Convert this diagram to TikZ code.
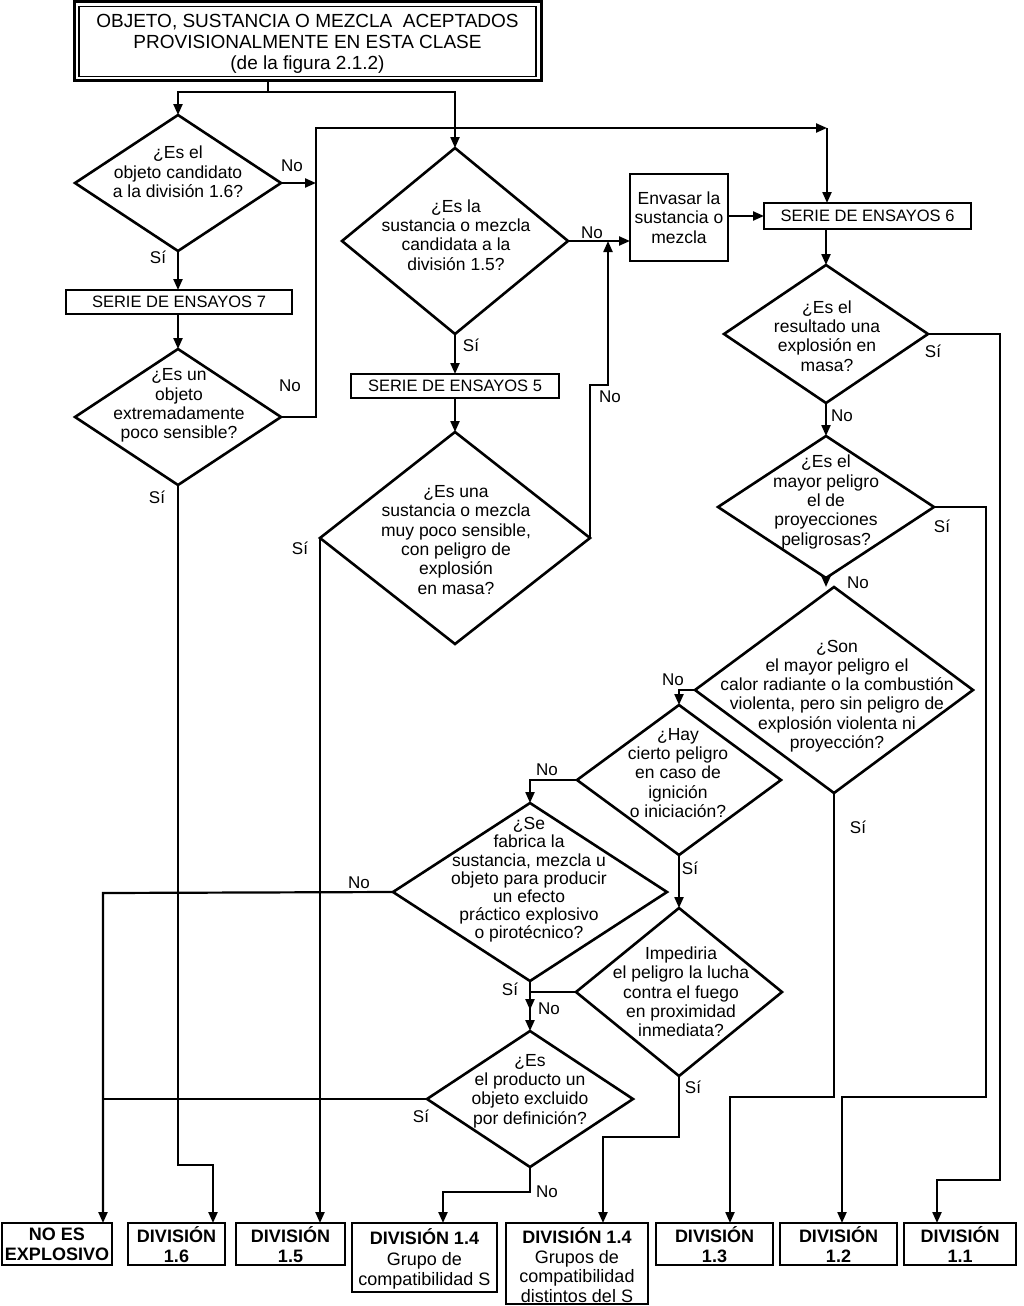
\documentclass[tikz,border=0pt]{standalone}
\usepackage{fontspec}
\setmainfont{Liberation Sans}
\usetikzlibrary{shapes.geometric,arrows.meta}
\newcommand{\dtxt}{\fontsize{17.5}{19.3}\selectfont}
\newcommand{\btxt}{\fontsize{16.5}{19}\selectfont}
\newcommand{\ftxt}{\fontsize{18}{20.5}\selectfont}
\begin{document}
\begin{tikzpicture}[x=1pt,y=-1pt,
  dia/.style={diamond,draw,line width=2.6pt,inner sep=0pt,outer sep=0pt},
  bx/.style={draw,line width=2.6pt,inner sep=0pt,outer sep=0pt},
  txt/.style={align=center,font=\dtxt,inner sep=0pt},
  btx/.style={align=center,font=\btxt,inner sep=0pt},
  ftx/.style={align=center,font=\ftxt,inner sep=0pt},
  lbl/.style={font=\fontsize{17}{19}\selectfont,inner sep=0pt},
  con/.style={line width=2.2pt},
  arr/.style={line width=2.2pt,-{Triangle[length=11pt,width=9pt]}}]
\useasboundingbox[fill=white] (0,0) rectangle (1023,1306);

% title
\node[bx,line width=3pt,minimum width=467,minimum height=79] (title) at (307.5,41) {};
\node[bx,line width=1.8pt,minimum width=457,minimum height=70] (titlein) at (307.5,41.5) {};
\node[align=center,font=\fontsize{19}{21}\selectfont,inner sep=0pt] (titlet) at (307.5,44) {OBJETO, SUSTANCIA O MEZCLA\ \ ACEPTADOS\\PROVISIONALMENTE EN ESTA CLASE\\(de la figura 2.1.2)};

% diamonds
\node[dia,minimum width=206,minimum height=136] (d1) at (178,183) {};
\node[txt] (d1t) at (178,172) {¿Es el\\objeto candidato\\a la división 1.6?};
\node[dia,minimum width=206,minimum height=136] (d7) at (178,417) {};
\node[txt] (d7t) at (179,405.5) {¿Es un\\objeto\\extremadamente\\poco sensible?};
\node[dia,minimum width=226,minimum height=186] (d2) at (455,241) {};
\node[txt] (d2t) at (456,235) {¿Es la\\sustancia o mezcla\\candidata a la\\división 1.5?};
\node[dia,minimum width=270,minimum height=212] (d55) at (455,538) {};
\node[txt] (d55t) at (456,540) {¿Es una\\sustancia o mezcla\\muy poco sensible,\\con peligro de\\explosión\\en masa?};
\node[dia,minimum width=204,minimum height=138] (d6a) at (826,334) {};
\node[txt] (d6at) at (827,336) {¿Es el\\resultado una\\explosión en\\masa?};
\node[dia,minimum width=216,minimum height=142] (d6b) at (826,507) {};
\node[txt] (d6bt) at (826,502) {¿Es el\\mayor peligro\\el de\\proyecciones\\peligrosas?};
\node[dia,minimum width=278,minimum height=206] (d6c) at (834,690) {};
\node[txt] (d6ct) at (837,696) {¿Son\\el mayor peligro el\\calor radiante o la combustión\\violenta, pero sin peligro de\\explosión violenta ni\\proyección?};
\node[dia,minimum width=204,minimum height=150] (d6d) at (679,780) {};
\node[txt] (d6dt) at (678,773) {¿Hay\\cierto peligro\\en caso de\\ignición\\o iniciación?};
\node[dia,minimum width=274,minimum height=178] (d6e) at (530,892) {};
\node[align=center,font=\fontsize{17.5}{18.2}\selectfont,inner sep=0pt] (d6et) at (529,880) {¿Se\\fabrica la\\sustancia, mezcla u\\objeto para producir\\un efecto\\práctico explosivo\\o pirotécnico?};
\node[dia,minimum width=206,minimum height=168] (d6f) at (679,992) {};
\node[txt] (d6ft) at (681,992) {Impediria\\el peligro la lucha\\contra el fuego\\en proximidad\\inmediata?};
\node[dia,minimum width=206,minimum height=136] (d6g) at (530,1099) {};
\node[txt] (d6gt) at (530,1091) {¿Es\\el producto un\\objeto excluido\\por definición?};

% boxes
\node[bx,minimum width=226,minimum height=24] (s7) at (179,302) {};
\node[btx] (s7t) at (179,302) {SERIE DE ENSAYOS 7};
\node[bx,minimum width=208,minimum height=24] (s5) at (455,386) {};
\node[btx] (s5t) at (455,386) {SERIE DE ENSAYOS 5};
\node[bx,minimum width=207,minimum height=26] (s6) at (867.5,216) {};
\node[btx] (s6t) at (867.5,216) {SERIE DE ENSAYOS 6};
\node[bx,minimum width=98,minimum height=87] (env) at (679,217.5) {};
\node[txt] (envt) at (679,217.5) {Envasar la\\sustancia o\\mezcla};

% final boxes
\node[bx,minimum width=110,minimum height=42] (noes) at (57,1244) {};
\node[ftx,font=\ftxt\bfseries] (noest) at (57,1244.5) {NO ES\\EXPLOSIVO};
\node[bx,minimum width=97,minimum height=42] (div16) at (176.5,1244) {};
\node[ftx,font=\ftxt\bfseries] (div16t) at (176.5,1244.5) {DIVISIÓN\\1.6};
\node[bx,minimum width=109,minimum height=42] (div15) at (290.5,1244) {};
\node[ftx,font=\ftxt\bfseries] (div15t) at (290.5,1244.5) {DIVISIÓN\\1.5};
\node[bx,minimum width=145,minimum height=69] (div14s) at (424.5,1257.5) {};
\node[ftx] (div14st) at (424.5,1259) {\textbf{DIVISIÓN 1.4}\\Grupo de\\compatibilidad S};
\node[bx,minimum width=142,minimum height=81] (div14o) at (577,1263.5) {};
\node[align=center,font=\fontsize{18}{19.5}\selectfont,inner sep=0pt] (div14ot) at (577,1265) {\textbf{DIVISIÓN 1.4}\\Grupos de\\compatibilidad\\distintos del S};
\node[bx,minimum width=117,minimum height=42] (div13) at (714.5,1244) {};
\node[ftx,font=\ftxt\bfseries] (div13t) at (714.5,1244.5) {DIVISIÓN\\1.3};
\node[bx,minimum width=117,minimum height=42] (div12) at (838.5,1244) {};
\node[ftx,font=\ftxt\bfseries] (div12t) at (838.5,1244.5) {DIVISIÓN\\1.2};
\node[bx,minimum width=112,minimum height=42] (div11) at (960,1244) {};
\node[ftx,font=\ftxt\bfseries] (div11t) at (960,1244.5) {DIVISIÓN\\1.1};

% helper coordinates
\coordinate (tj) at (268,92);
\coordinate (j1) at (316,183);
\coordinate (j2) at (827,128);
\coordinate (j3) at (608,241);
\coordinate (k3) at (608,385);
\coordinate (k7) at (213,1165);
\coordinate (k6a) at (1000,1180);
\coordinate (m11) at (937,1180);
\coordinate (k6b) at (986,1097);
\coordinate (m12) at (842,1097);
\coordinate (m13) at (730,1097);
\coordinate (m0) at (103,893);
\coordinate (j4) at (530,1010);
\coordinate (m14o) at (603,1137);
\coordinate (m14s) at (443,1192);

% connectors
\draw[con] (tj |- title.south) -- (tj);
\draw[arr] (tj) -| (d1.north);
\draw[arr] (tj) -| (d2.north);
\draw[arr] (d1.east) -- (j1);
\draw[arr] (d1.south) -- (s7.north -| d1.south);
\draw[arr] (s7.south -| d7.north) -- (d7.north);
\draw[arr] (d7.east) -- (d7.east -| j1) -- (j1 |- j2) -- (j2);
\draw[arr] (j2) -- (j2 |- s6.north);
\draw[arr] (d2.east) -- (d2.east -| env.west);
\draw[arr] (env.east |- s6.west) -- (s6.west);
\draw[arr] (d2.south) -- (d2.south |- s5.north);
\draw[arr] (s5.south -| d55.north) -- (d55.north);
\draw[arr] (d55.east) -- (d55.east |- k3) -- (k3) -- (j3);
\draw[arr] (d55.west) -- (d55.west |- div15.north);
\draw[arr] (d7.south) |- (k7) -- (k7 |- div16.north);
\draw[arr] (s6.south -| d6a.north) -- (d6a.north);
\draw[arr] (d6a.east) -| (k6a) -- (m11) -- (m11 |- div11.north);
\draw[arr] (d6a.south) -- (d6b.north);
\draw[arr] (d6b.east) -| (k6b) -- (m12) -- (m12 |- div12.north);
\draw[arr] (d6b.south) -- (d6b.south |- d6c.north);
\draw[arr] (d6c.south) |- (m13) -- (m13 |- div13.north);
\draw[arr] (d6c.west) -| (d6d.north);
\draw[arr] (d6d.west) -| (d6e.north);
\draw[arr] (d6d.south) -- (d6f.north);
\draw[arr] (d6e.west) -- (m0) -- (m0 |- noes.north);
\draw[arr] (d6e.south) -- (j4);
\draw[arr] (d6f.west) -| (d6g.north);
\draw[arr] (d6f.south) |- (m14o) -- (m14o |- div14o.north);
\draw[con] (d6g.west) -- (d6g.west -| m0);
\draw[arr] (d6g.south) |- (m14s) -- (m14s |- div14s.north);

% labels
\node[lbl] (l1) at (292,166) {No};
\node[lbl] (l2) at (158,257) {Sí};
\node[lbl] (l3) at (290,386) {No};
\node[lbl] (l4) at (157,497) {Sí};
\node[lbl] (l5) at (592,233) {No};
\node[lbl] (l6) at (471,345) {Sí};
\node[lbl] (l7) at (610,397) {No};
\node[lbl] (l8) at (300,548) {Sí};
\node[lbl] (l9) at (933,351) {Sí};
\node[lbl] (l10) at (842,416) {No};
\node[lbl] (l11) at (942,526) {Sí};
\node[lbl] (l12) at (858,583) {No};
\node[lbl] (l13) at (673,680) {No};
\node[lbl] (l14) at (858,827) {Sí};
\node[lbl] (l15) at (547,770) {No};
\node[lbl] (l16) at (690,868) {Sí};
\node[lbl] (l17) at (359,883) {No};
\node[lbl] (l18) at (510,989) {Sí};
\node[lbl] (l19) at (549,1009) {No};
\node[lbl] (l20) at (693,1087) {Sí};
\node[lbl] (l21) at (421,1116) {Sí};
\node[lbl] (l22) at (547,1192) {No};
\end{tikzpicture}
\end{document}
